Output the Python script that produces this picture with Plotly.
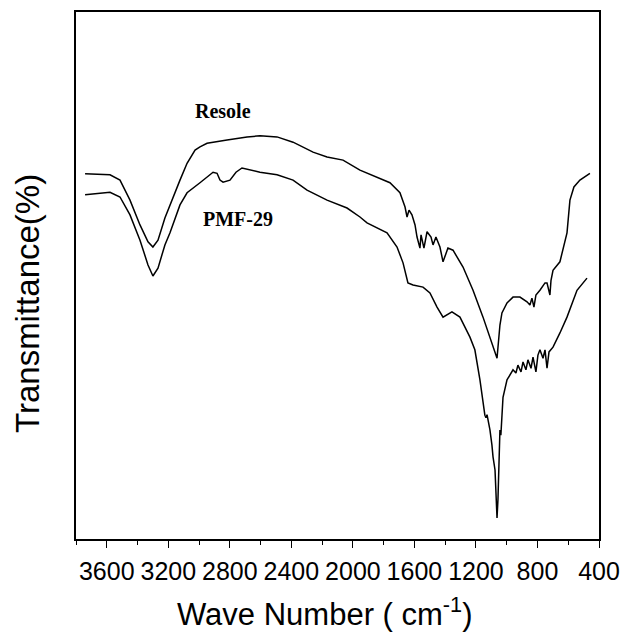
import plotly.graph_objects as go

# Resole spectrum (wavenumber cm^-1, transmittance arbitrary %)
resole_wn = [3741, 3579, 3514, 3449, 3384, 3332, 3300, 3267, 3222, 3189, 3124, 3078, 3026, 2994,
             2948, 2818, 2688, 2604, 2493, 2389, 2259, 2168, 2064, 1954, 1908, 1759, 1694, 1661,
             1648, 1635, 1616, 1596, 1583, 1564, 1557, 1538, 1518, 1492, 1479, 1460, 1434, 1414,
             1382, 1349, 1284, 1219, 1154, 1109, 1063, 1044, 1031, 998, 959, 914, 868, 849, 836,
             823, 810, 784, 751, 738, 719, 712, 699, 654, 608, 589, 563, 524, 459]
resole_t = [69.3, 69.1, 68.1, 64.3, 59.6, 56.4, 55.4, 56.7, 60.9, 63.4, 68.1, 71.3, 73.8, 74.4,
            75.1, 75.7, 76.3, 76.5, 76.3, 75.3, 73.4, 72.5, 71.9, 70.0, 69.4, 67.6, 65.7, 63.0,
            61.1, 62.4, 61.5, 59.6, 57.3, 55.2, 57.7, 55.2, 58.3, 57.3, 55.8, 57.3, 55.4, 52.6,
            55.2, 54.8, 51.6, 47.2, 42.1, 38.3, 34.3, 40.6, 42.9, 44.8, 45.9, 45.9, 45.0, 44.4, 45.7,
            44.0, 46.3, 47.2, 48.6, 48.6, 46.3, 49.1, 51.0, 52.6, 58.1, 64.3, 66.8, 68.1, 69.4]

# PMF-29 spectrum
pmf_wn = [3741, 3579, 3514, 3449, 3384, 3332, 3300, 3267, 3222, 3189, 3124, 3078, 2994, 2909,
          2883, 2864, 2844, 2799, 2760, 2721, 2604, 2493, 2389, 2298, 2168, 2038, 1954, 1908,
          1778, 1713, 1674, 1642, 1609, 1544, 1499, 1453, 1414, 1356, 1304, 1239, 1207, 1174,
          1142, 1135, 1128, 1109, 1096, 1089, 1076, 1070, 1063, 1057, 1044, 1038, 1024, 998,
          979, 959, 940, 927, 907, 894, 875, 862, 842, 829, 810, 797, 784, 764, 751, 738, 725,
          699, 654, 608, 543, 478]
pmf_t = [65.3, 65.8, 64.9, 61.5, 56.7, 52.0, 49.9, 51.4, 55.8, 58.1, 63.4, 65.7, 67.6, 69.6,
         69.4, 68.1, 67.7, 68.1, 69.6, 70.4, 69.6, 69.1, 68.1, 66.2, 64.3, 62.8, 61.1, 60.0,
         58.1, 55.4, 52.4, 48.6, 48.2, 47.8, 46.7, 44.0, 42.1, 43.1, 42.1, 38.3, 35.9, 30.2,
         23.5, 23.0, 23.6, 20.7, 17.8, 15.6, 13.1, 7.4, 4.0, 7.4, 20.7, 19.7, 26.9, 30.2,
         31.1, 32.1, 31.5, 33.0, 31.7, 33.6, 32.1, 34.0, 32.4, 34.5, 31.7, 34.9, 35.9, 34.3,
         35.9, 32.4, 35.5, 36.4, 39.1, 42.1, 47.2, 49.5]

x_ticks = [3600, 3200, 2800, 2400, 2000, 1600, 1200, 800, 400]

fig = go.Figure()
fig.add_trace(go.Scatter(x=resole_wn, y=resole_t, mode="lines",
                         line=dict(color="black", width=1.5), showlegend=False))
fig.add_trace(go.Scatter(x=pmf_wn, y=pmf_t, mode="lines",
                         line=dict(color="black", width=1.5), showlegend=False))


def px_to_domain(px, py):
    return (px - 76) / 523.0, (539 - py) / 527.0


anns = []
for txt, (px, py) in [("<b>Resole</b>", (223, 111)), ("<b>PMF-29</b>", (238, 219))]:
    dx, dy = px_to_domain(px, py)
    anns.append(dict(text=txt, x=dx, y=dy, xref="paper", yref="paper", showarrow=False,
                     xanchor="center", yanchor="middle",
                     font=dict(family="Liberation Serif, Times New Roman", size=20, color="black")))
dx, dy = px_to_domain(324, 612)
anns.append(dict(text="Wave Number ( cm<sup>-1</sup>)", x=dx, y=dy, xref="paper", yref="paper",
                 showarrow=False, xanchor="center", yanchor="middle",
                 font=dict(family="Liberation Sans, Arial", size=31, color="black")))
dx, dy = px_to_domain(27, 304)
anns.append(dict(text="Transmittance(%)", x=dx, y=dy, xref="paper", yref="paper",
                 showarrow=False, xanchor="center", yanchor="middle", textangle=-90,
                 font=dict(family="Liberation Sans, Arial", size=33, color="black")))

fig.update_layout(
    width=621, height=632,
    margin=dict(l=76, r=22, t=12, b=93, autoexpand=False),
    paper_bgcolor="white", plot_bgcolor="white",
    font=dict(family="Liberation Sans, Arial", color="black"),
    xaxis=dict(range=[3800, 400], tickmode="array", tickvals=x_ticks,
               ticktext=[str(v) for v in x_ticks], automargin=False,
               ticks="outside", ticklen=7, tickwidth=1.2, tickcolor="black",
               minor=dict(tickmode="linear", tick0=400, dtick=200, ticks="outside",
                          ticklen=4, tickcolor="black", tickwidth=1),
               showline=True, linecolor="black", linewidth=1.5, mirror=True,
               showgrid=False, zeroline=False,
               tickfont=dict(size=25, family="Liberation Sans, Arial"),
               ticklabelstandoff=2),
    yaxis=dict(range=[0, 100], showticklabels=False, ticks="", automargin=False,
               showline=True, linecolor="black", linewidth=1.5, mirror=True,
               showgrid=False, zeroline=False),
    annotations=anns,
)

fig.write_html("out.html")
